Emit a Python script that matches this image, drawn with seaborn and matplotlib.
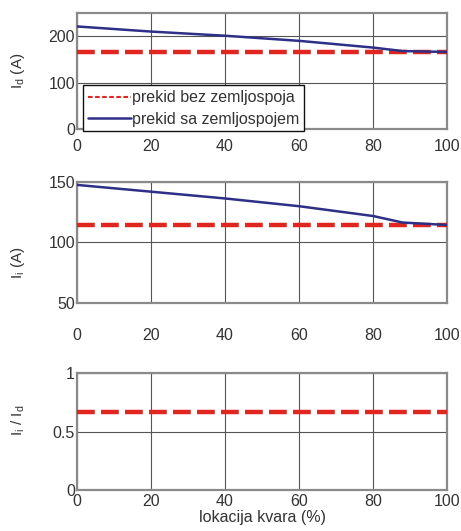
import numpy as np
import pandas as pd
import matplotlib
matplotlib.use("Agg")
import matplotlib.pyplot as plt
from matplotlib.lines import Line2D
import seaborn as sns

# fault location along the line (%)
location = [0, 20, 40, 60, 80, 88, 100]

# positive-sequence current I_d (A)
id_without_ground = [166, 166, 166, 166, 166, 166, 166]
id_with_ground = [221, 210, 201, 190, 175.5, 168, 166]

# negative-sequence current I_i (A)
ii_without_ground = [114.5, 114.5, 114.5, 114.5, 114.5, 114.5, 114.5]
ii_with_ground = [147.6, 142, 136.4, 130, 121.9, 116.5, 114.5]

# ratio I_i / I_d
ratio_without_ground = [0.67, 0.67, 0.67, 0.67, 0.67, 0.67, 0.67]

label_red = "prekid bez zemljospoja"
label_blue = "prekid sa zemljospojem"

sns.set_style("white")
plt.rcParams["font.family"] = ["Liberation Sans", "DejaVu Sans"]
plt.rcParams["mathtext.fontset"] = "custom"
plt.rcParams["mathtext.rm"] = "Liberation Sans"
plt.rcParams["mathtext.it"] = "Liberation Sans"

RED = "#e0261f"
BLUE = "#2e2f86"
GRID = "#555555"
FRAME = "#8a8a8a"
TXT = "#333333"
FS = 11.5

fig = plt.figure(figsize=(4.61, 5.31), dpi=100)
W, H = 461, 531


def add_axes(top_px, bottom_px):
    left, right = 77, 447
    return fig.add_axes([left / W, 1 - bottom_px / H,
                         (right - left) / W, (bottom_px - top_px) / H])


ax1 = add_axes(13, 129)
ax2 = add_axes(182, 303)
ax3 = add_axes(373, 490)

df1 = pd.DataFrame({"x": location, "red": id_without_ground, "blue": id_with_ground})
df2 = pd.DataFrame({"x": location, "red": ii_without_ground, "blue": ii_with_ground})
df3 = pd.DataFrame({"x": location, "red": ratio_without_ground})

dash_kw = dict(color=RED, linewidth=3.2, dashes=(4.0, 1.4))

for ax, df in ((ax1, df1), (ax2, df2)):
    sns.lineplot(data=df, x="x", y="red", ax=ax, **dash_kw, zorder=3)
    sns.lineplot(data=df, x="x", y="blue", ax=ax, color=BLUE, linewidth=1.8, zorder=4)
sns.lineplot(data=df3, x="x", y="red", ax=ax3, **dash_kw, zorder=3)

limits = [(0, 250), (50, 150), (0, 1)]
yticks = [[0, 100, 200], [50, 100, 150], [0, 0.5, 1]]
yticklabels = [["0", "100", "200"], ["50", "100", "150"], ["0", "0.5", "1"]]
ylabels = [r"$\mathregular{I_d}$ (A)", r"$\mathregular{I_i}$ (A)",
           r"$\mathregular{I_i\ /\ I_d}$"]
xpads = [7, 18, 3]
label_y = [0.5, 0.33, 0.6]

for ax, lim, yt, ytl, yl, pad, ly in zip((ax1, ax2, ax3), limits, yticks,
                                         yticklabels, ylabels, xpads, label_y):
    ax.set_xlim(0, 100)
    ax.set_ylim(*lim)
    ax.set_xticks([0, 20, 40, 60, 80, 100])
    ax.set_yticks(yt)
    ax.set_yticklabels(ytl)
    ax.grid(True, color=GRID, linewidth=0.8)
    ax.set_axisbelow(True)
    for s in ax.spines.values():
        s.set_color(FRAME)
        s.set_linewidth(1.6)
    ax.tick_params(axis="x", length=0, pad=pad, labelsize=FS, labelcolor=TXT)
    ax.tick_params(axis="y", length=0, pad=1.5, labelsize=FS, labelcolor=TXT)
    ax.set_xlabel("")
    ax.set_ylabel(yl, fontsize=11, color=TXT)
    ax.yaxis.set_label_coords(-0.135, ly)

ax3.set_xlabel("lokacija kvara (%)", fontsize=FS, color=TXT, labelpad=0.5)

handles = [Line2D([], [], color=RED, linewidth=1.5, linestyle=(0, (2.2, 1.2))),
           Line2D([], [], color=BLUE, linewidth=1.8)]
leg = ax1.legend(handles, [label_red, label_blue], loc="lower left",
                 bbox_to_anchor=(0.016, -0.02), fontsize=FS, frameon=True,
                 fancybox=False, framealpha=1, edgecolor="#111111",
                 handlelength=2.7, handletextpad=0.05, borderpad=0.3,
                 labelspacing=0.4, borderaxespad=0)
leg.get_frame().set_linewidth(1.0)
for t in leg.get_texts():
    t.set_color(TXT)

fig.savefig("out.png", dpi=100)
